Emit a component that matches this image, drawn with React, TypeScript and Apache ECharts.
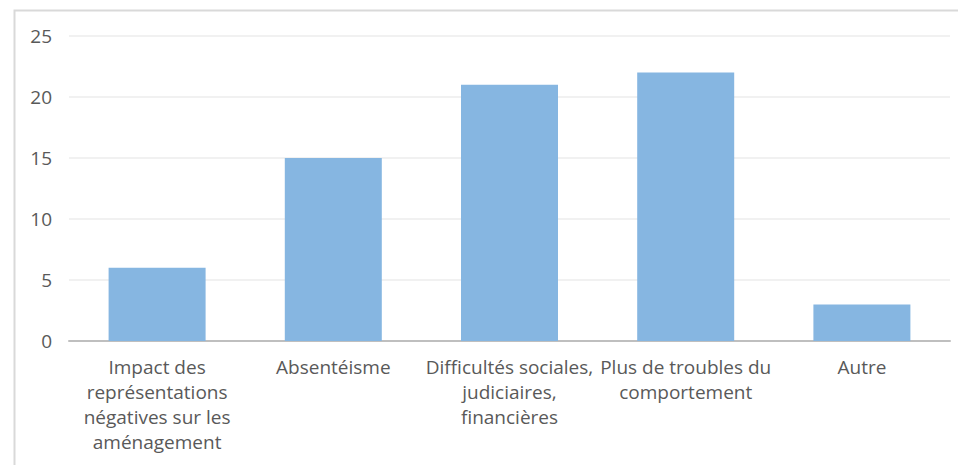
import React, { useEffect, useRef } from "react";
import * as echarts from "echarts";

const categories = [
  "Impact des\nreprésentations\nnégatives sur les\naménagement",
  "Absentéisme",
  "Difficultés sociales,\njudiciaires,\nfinancières",
  "Plus de troubles du\ncomportement",
  "Autre",
];
const values = [6, 15, 21, 22, 3];
const yTicks = { min: 0, max: 25, interval: 5 };

const FONT = "'Open Sans', 'Noto Sans', sans-serif";

export default function App() {
  const ref = useRef<HTMLDivElement>(null);

  useEffect(() => {
    if (!ref.current) return;
    const chart = echarts.init(ref.current, undefined, { renderer: "svg" });
    chart.setOption({
      animation: false,
      backgroundColor: "#ffffff",
      textStyle: { fontFamily: FONT },
      graphic: [
        {
          type: "rect",
          shape: { x: 14.5, y: 10.5, width: 960, height: 470 },
          style: { fill: "none", stroke: "#d9d9d9", lineWidth: 2 },
          silent: true,
        },
      ],
      grid: { left: 69, right: 8, top: 36, bottom: 124 },
      xAxis: {
        type: "category",
        data: categories,
        axisTick: { show: false },
        axisLine: { lineStyle: { color: "#bfbfbf", width: 2 } },
        axisLabel: {
          interval: 0,
          color: "#595959",
          fontSize: 19,
          lineHeight: 25,
          margin: 13,
          fontFamily: FONT,
        },
      },
      yAxis: {
        type: "value",
        min: yTicks.min,
        max: yTicks.max,
        interval: yTicks.interval,
        axisLine: { show: false },
        axisTick: { show: false },
        splitLine: { lineStyle: { color: "#ececec", width: 1.5 } },
        axisLabel: { color: "#595959", fontSize: 19, margin: 17, fontFamily: FONT },
      },
      series: [
        {
          type: "bar",
          data: values,
          barWidth: 97,
          itemStyle: { color: "#86b6e1" },
        },
      ],
    });
    return () => chart.dispose();
  }, []);

  return (
    <div
      ref={ref}
      style={{ position: "fixed", left: 0, top: 0, width: 958, height: 465 }}
    />
  );
}
